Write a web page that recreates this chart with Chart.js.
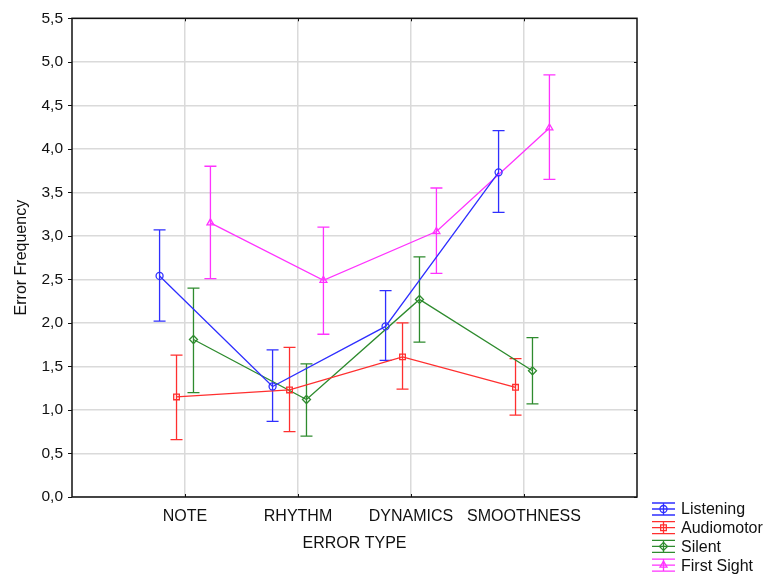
<!DOCTYPE html>
<html>
<head>
<meta charset="utf-8">
<script src="https://cdn.jsdelivr.net/npm/chart.js@4"></script>
<style>
    html, body { margin: 0; padding: 0; background: #fff; }
    #wrap { width: 768px; height: 575px; }
</style>
</head>
<body>
<div id="wrap"><canvas id="errorChart"></canvas></div>
<script>
// Catégories et valeurs (moyennes + bornes des barres d'erreur)
const categories = ['NOTE', 'RHYTHM', 'DYNAMICS', 'SMOOTHNESS'];
const yTicks = [0, 0.5, 1, 1.5, 2, 2.5, 3, 3.5, 4, 4.5, 5, 5.5];

const seriesNames = ['Listening', 'Audiomotor', 'Silent', 'First Sight'];
const seriesColors = ['#2f2fff', '#ff2f2f', '#2e8b2e', '#ff33ff'];
const seriesMarkers = ['circle', 'rect', 'rectRot', 'triangle'];
const seriesOffsets = [-0.225, -0.075, 0.075, 0.225];

const listening = [2.54, 1.27, 1.96, 3.73];
const listeningLow = [2.02, 0.87, 1.57, 3.27];
const listeningHigh = [3.07, 1.69, 2.37, 4.21];

const audiomotor = [1.15, 1.23, 1.61, 1.26];
const audiomotorLow = [0.66, 0.75, 1.24, 0.94];
const audiomotorHigh = [1.63, 1.72, 2.00, 1.59];

const silent = [1.81, 1.12, 2.27, 1.45];
const silentLow = [1.20, 0.70, 1.78, 1.07];
const silentHigh = [2.40, 1.53, 2.76, 1.83];

const firstSight = [3.15, 2.49, 3.05, 4.24];
const firstSightLow = [2.51, 1.87, 2.57, 3.65];
const firstSightHigh = [3.80, 3.10, 3.55, 4.85];

const means = [listening, audiomotor, silent, firstSight];
const lows = [listeningLow, audiomotorLow, silentLow, firstSightLow];
const highs = [listeningHigh, audiomotorHigh, silentHigh, firstSightHigh];

const fontFamily = '"Liberation Sans", Arial, sans-serif';

// Construction des datasets (x décalé dans chaque catégorie)
const datasets = seriesNames.map((name, s) => ({
    label: name,
    data: means[s].map((v, i) => ({ x: i + 1 + seriesOffsets[s], y: v })),
    low: lows[s],
    high: highs[s],
    borderColor: seriesColors[s],
    borderWidth: 1.3,
    pointStyle: seriesMarkers[s],
    pointRadius: s === 0 ? 3.5 : 4,
    pointBorderColor: seriesColors[s],
    pointBorderWidth: 1.3,
    pointBackgroundColor: 'rgba(0,0,0,0)',
    tension: 0,
    fill: false
}));

// Barres d'erreur dessinées sous les points
const errorBars = {
    id: 'errorBars',
    beforeDatasetsDraw(chart) {
        const { ctx, scales: { x, y } } = chart;
        ctx.save();
        chart.data.datasets.forEach(ds => {
            ctx.strokeStyle = ds.borderColor;
            ctx.lineWidth = 1.3;
            ds.data.forEach((p, i) => {
                const px = x.getPixelForValue(p.x);
                const yl = y.getPixelForValue(ds.low[i]);
                const yh = y.getPixelForValue(ds.high[i]);
                ctx.beginPath();
                ctx.moveTo(px, yl); ctx.lineTo(px, yh);
                ctx.moveTo(px - 6, yl); ctx.lineTo(px + 6, yl);
                ctx.moveTo(px - 6, yh); ctx.lineTo(px + 6, yh);
                ctx.stroke();
            });
        });
        ctx.restore();
    }
};

// Cadre du graphique et petites graduations
const frame = {
    id: 'frame',
    afterDatasetsDraw(chart) {
        const { ctx, chartArea: a, scales: { x, y } } = chart;
        ctx.save();
        ctx.strokeStyle = '#111';
        ctx.lineWidth = 1.5;
        ctx.strokeRect(a.left, a.top, a.right - a.left, a.bottom - a.top);
        ctx.lineWidth = 1;
        ctx.beginPath();
        yTicks.forEach(v => {
            const py = Math.round(y.getPixelForValue(v)) + 0.5;
            ctx.moveTo(a.left - 4, py); ctx.lineTo(a.left, py);
            ctx.moveTo(a.right - 3, py); ctx.lineTo(a.right, py);
        });
        categories.forEach((c, i) => {
            const px = Math.round(x.getPixelForValue(i + 1)) + 0.5;
            ctx.moveTo(px, a.top); ctx.lineTo(px, a.top + 3);
            ctx.moveTo(px, a.bottom); ctx.lineTo(px, a.bottom - 3);
        });
        ctx.stroke();
        ctx.restore();
    }
};

// Légende dessinée en bas à droite, hors de la zone du graphique
const sideLegend = {
    id: 'sideLegend',
    afterDraw(chart) {
        const { ctx } = chart;
        ctx.save();
        chart.data.datasets.forEach((ds, s) => {
            const cy = 509 + s * 18.7;
            const x0 = 652, x1 = 675, cx = (x0 + x1) / 2;
            ctx.strokeStyle = ds.borderColor;
            ctx.lineWidth = 1.3;
            ctx.beginPath();
            ctx.moveTo(x0, cy - 6); ctx.lineTo(x1, cy - 6);
            ctx.moveTo(x0, cy); ctx.lineTo(x1, cy);
            ctx.moveTo(x0, cy + 6); ctx.lineTo(x1, cy + 6);
            ctx.moveTo(cx, cy - 6); ctx.lineTo(cx, cy + 6);
            ctx.stroke();
            ctx.fillStyle = 'rgba(0,0,0,0)';
            Chart.helpers.drawPoint(ctx, {
                pointStyle: ds.pointStyle,
                radius: ds.pointRadius,
                rotation: 0,
                borderWidth: 1.3
            }, cx, cy);
            ctx.fillStyle = '#111';
            ctx.font = '16px ' + fontFamily;
            ctx.textAlign = 'left';
            ctx.textBaseline = 'middle';
            ctx.fillText(ds.label, 681, cy + 1);
        });
        ctx.restore();
    }
};

const ctx = document.getElementById('errorChart').getContext('2d');
const errorChart = new Chart(ctx, {
    type: 'line',
    data: { datasets: datasets },
    plugins: [errorBars, frame, sideLegend],
    options: {
        responsive: true,
        maintainAspectRatio: false,
        animation: false,
        layout: { padding: { top: 18, right: 131, left: 0, bottom: 0 } },
        plugins: {
            legend: { display: false },
            tooltip: { enabled: false }
        },
        scales: {
            x: {
                type: 'linear',
                min: 0,
                max: 5,
                afterBuildTicks: scale => {
                    scale.ticks = categories.map((c, i) => ({ value: i + 1 }));
                },
                afterFit: scale => { scale.height = 78; },
                grid: { color: '#dadada', lineWidth: 1.5, drawTicks: false },
                border: { display: false },
                ticks: {
                    autoSkip: false,
                    maxRotation: 0,
                    padding: 10,
                    color: '#111',
                    font: { family: fontFamily, size: 16 },
                    callback: v => categories[v - 1]
                },
                title: {
                    display: true,
                    text: 'ERROR TYPE',
                    color: '#111',
                    font: { family: fontFamily, size: 16 },
                    padding: { top: 0, bottom: 22 }
                }
            },
            y: {
                min: 0,
                max: 5.5,
                afterBuildTicks: scale => {
                    scale.ticks = yTicks.map(v => ({ value: v }));
                },
                afterFit: scale => { scale.width = 72; },
                grid: { color: '#dadada', lineWidth: 1.5, drawTicks: false },
                border: { display: false },
                ticks: {
                    padding: 9,
                    color: '#111',
                    font: { family: fontFamily, size: 15.5 },
                    callback: v => v.toFixed(1).replace('.', ',')
                },
                title: {
                    display: true,
                    text: 'Error Frequency',
                    color: '#111',
                    font: { family: fontFamily, size: 16 },
                    padding: { top: 12, bottom: 0 }
                }
            }
        }
    }
});
</script>
</body>
</html>
